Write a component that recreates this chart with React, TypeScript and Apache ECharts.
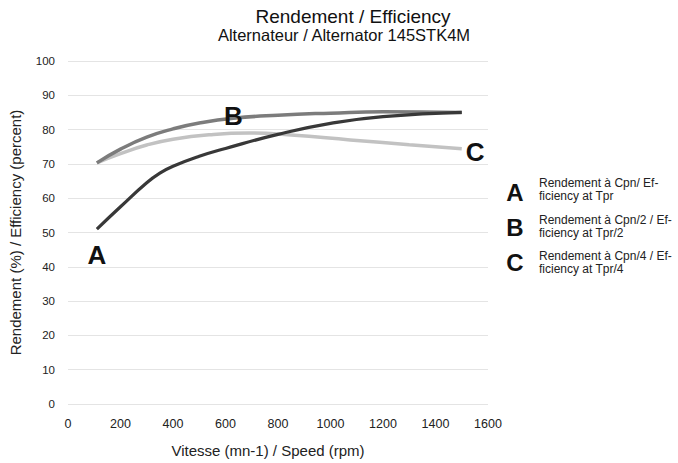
import React, { useEffect, useRef } from "react";
import * as echarts from "echarts";

const speedA = [110, 200, 300, 350, 400, 500, 600, 800, 1000, 1200, 1500];
const effA = [51, 57.5, 64.5, 67.3, 69.3, 72.2, 74.5, 78.6, 81.8, 83.8, 85];
const speedB = [110, 200, 300, 400, 500, 630, 800, 1000, 1200, 1500];
const effB = [70.3, 74.3, 77.8, 80.2, 81.9, 83.3, 84.2, 84.8, 85.2, 85];
const speedC = [110, 200, 300, 400, 540, 690, 850, 1075, 1300, 1500];
const effC = [70.3, 73, 75.5, 77.2, 78.5, 79, 78.4, 77, 75.6, 74.4];

const yTicks = [0, 10, 20, 30, 40, 50, 60, 70, 80, 90, 100];
const xTicks = [0, 200, 400, 600, 800, 1000, 1200, 1400, 1600];

const titleText = "Rendement / Efficiency";
const subtitleText = "Alternateur / Alternator 145STK4M";
const xName = "Vitesse (mn-1) / Speed (rpm)";
const yName = "Rendement (%) / Efficiency (percent)";

const legendItems = [
  { letter: "A", lines: ["Rendement à Cpn/ Ef-", "ficiency at Tpr"] },
  { letter: "B", lines: ["Rendement à Cpn/2 / Ef-", "ficiency at Tpr/2"] },
  { letter: "C", lines: ["Rendement à Cpn/4 / Ef-", "ficiency at Tpr/4"] },
];

const FONT = "Liberation Sans, Arial, sans-serif";

export default function App() {
  const ref = useRef<HTMLDivElement>(null);
  useEffect(() => {
    if (!ref.current) return;
    const chart = echarts.init(ref.current, null, { renderer: "svg" });
    const letterLabel = {
      show: true,
      fontSize: 26,
      fontWeight: "bold",
      color: "#111",
      fontFamily: FONT,
    };
    const mk = (xs: number[], ys: number[]) => xs.map((x, i) => [x, ys[i]]);
    const lastC = speedC.length - 1;

    const graphics: any[] = [
      {
        type: "text",
        x: 353,
        y: 16.5,
        style: {
          text: titleText,
          font: `19px ${FONT}`,
          fill: "#111",
          textAlign: "center",
          textVerticalAlign: "middle",
        },
      },
      {
        type: "text",
        x: 344,
        y: 34.5,
        style: {
          text: subtitleText,
          font: `16.5px ${FONT}`,
          fill: "#111",
          textAlign: "center",
          textVerticalAlign: "middle",
        },
      },
    ];
    const letterY = [192, 227, 262];
    const textY = [189.5, 226.5, 262.5];
    legendItems.forEach((it, i) => {
      graphics.push({
        type: "text",
        x: 515,
        y: letterY[i],
        style: {
          text: it.letter,
          font: `bold 24px ${FONT}`,
          fill: "#111",
          textAlign: "center",
          textVerticalAlign: "middle",
        },
      });
      graphics.push({
        type: "text",
        x: 539,
        y: textY[i],
        style: {
          text: it.lines.join("\n"),
          font: `12px ${FONT}`,
          lineHeight: 13,
          fill: "#222",
          textAlign: "left",
          textVerticalAlign: "middle",
        },
      });
    });

    const lineBase = {
      type: "line",
      smooth: 0.5,
      symbol: "none",
    };

    chart.setOption({
      animation: false,
      backgroundColor: "#fff",
      grid: { left: 68, right: 190, top: 61, bottom: 58 },
      xAxis: {
        type: "value",
        min: 0,
        max: 1600,
        interval: 200,
        name: xName,
        nameLocation: "middle",
        nameGap: 39,
        nameTextStyle: { fontSize: 15, color: "#222", fontFamily: FONT, padding: [0, 20, 0, 0] },
        axisLine: { show: false },
        axisTick: { show: false },
        splitLine: { show: false },
        axisLabel: {
          fontSize: 12.5,
          color: "#222",
          margin: 13,
          fontFamily: FONT,
          formatter: (v: number) => String(v),
          customValues: xTicks,
        },
      },
      yAxis: {
        type: "value",
        min: 0,
        max: 100,
        interval: 10,
        name: yName,
        nameLocation: "middle",
        nameGap: 45,
        nameTextStyle: { fontSize: 15, color: "#222", fontFamily: FONT },
        axisLine: { show: false },
        axisTick: { show: false },
        splitLine: { show: true, lineStyle: { color: "#e4e4e4", width: 1 } },
        axisLabel: {
          fontSize: 11.5,
          color: "#222",
          margin: 13,
          fontFamily: FONT,
          formatter: (v: number) => String(v),
          customValues: yTicks,
        },
      },
      series: [
        {
          ...lineBase,
          name: "C",
          data: mk(speedC, effC),
          lineStyle: { color: "#c2c2c2", width: 3.5 },
          z: 2,
          markPoint: {
            symbol: "circle",
            symbolSize: 0,
            silent: true,
            data: [
              {
                coord: [speedC[lastC], effC[lastC]],
                label: { ...letterLabel, formatter: "C", position: "right", distance: 4, offset: [0, 3] },
              },
            ],
          },
        },
        {
          ...lineBase,
          name: "B",
          data: mk(speedB, effB),
          lineStyle: { color: "#7c7c7c", width: 3.5 },
          z: 3,
          markPoint: {
            symbol: "circle",
            symbolSize: 0,
            silent: true,
            data: [
              {
                coord: [speedB[5], effB[5]],
                label: { ...letterLabel, formatter: "B", position: "inside", offset: [0, -2] },
              },
            ],
          },
        },
        {
          ...lineBase,
          name: "A",
          data: mk(speedA, effA),
          lineStyle: { color: "#383838", width: 3.2 },
          z: 4,
          markPoint: {
            symbol: "circle",
            symbolSize: 0,
            silent: true,
            data: [
              {
                coord: [speedA[0], effA[0]],
                label: { ...letterLabel, formatter: "A", position: "bottom", distance: 13 },
              },
            ],
          },
        },
      ],
      graphic: graphics,
    });
    return () => chart.dispose();
  }, []);
  return (
    <div
      ref={ref}
      style={{ position: "absolute", left: 0, top: 0, width: 678, height: 463 }}
    />
  );
}
